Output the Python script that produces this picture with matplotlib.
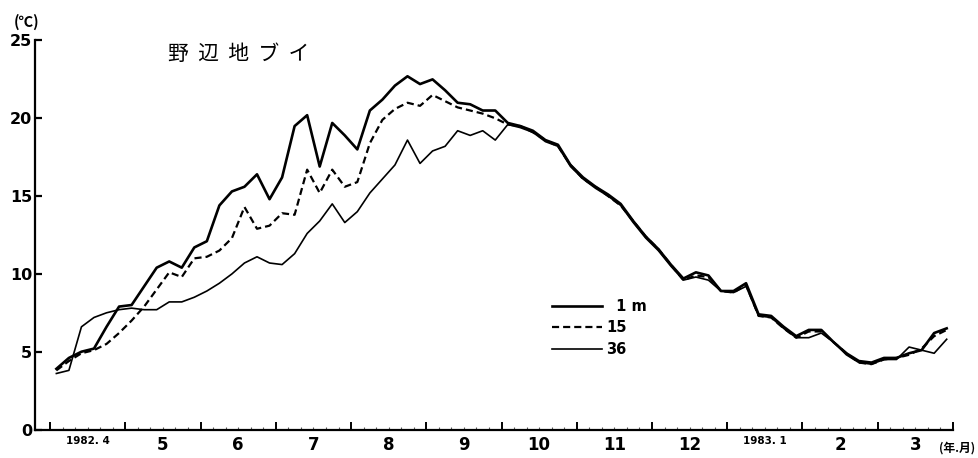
import matplotlib
matplotlib.use("Agg")
import matplotlib.pyplot as plt
import numpy as np

# 5-day mean water temperature, Apr 1982 - Mar 1983 (72 pentads)
t_1m = [3.9, 4.6, 5.0, 5.2, 6.6, 7.9, 8.0, 9.2, 10.4, 10.8,
        10.4, 11.7, 12.1, 14.4, 15.3, 15.6, 16.4, 14.8, 16.2, 19.5,
        20.2, 16.9, 19.7, 18.9, 18.0, 20.5, 21.2, 22.1, 22.7, 22.2,
        22.5, 21.8, 21.0, 20.9, 20.5, 20.5, 19.7,
        19.5, 19.2, 18.6, 18.3, 17.0, 16.2, 15.6, 15.1, 14.5, 13.4,
        12.4, 11.6, 10.6, 9.7, 10.1, 9.9, 8.9, 8.9, 9.4, 7.4,
        7.3, 6.6, 6.0, 6.4, 6.4, 5.6, 4.9, 4.4, 4.3, 4.6,
        4.6, 4.9, 5.1, 6.2, 6.5]
t_15m = [3.8, 4.4, 4.9, 5.1, 5.5, 6.2, 7.0, 7.9, 9.0, 10.1,
         9.8, 11.0, 11.1, 11.5, 12.3, 14.3, 12.9, 13.1, 13.9, 13.8,
         16.7, 15.2, 16.7, 15.6, 15.9, 18.4, 19.9, 20.6, 21.0, 20.8,
         21.5, 21.1, 20.7, 20.5, 20.3, 20.0, 19.6,
         19.5, 19.1, 18.6, 18.2, 17.0, 16.1, 15.6, 15.0, 14.4, 13.4,
         12.4, 11.6, 10.6, 9.6, 9.9, 9.8, 8.9, 8.8, 9.3, 7.3,
         7.2, 6.5, 5.9, 6.3, 6.3, 5.6, 4.9, 4.3, 4.2, 4.5,
         4.6, 4.8, 5.2, 6.0, 6.4]
t_36m = [3.6, 3.8, 6.6, 7.2, 7.5, 7.7, 7.8, 7.7, 7.7, 8.2,
         8.2, 8.5, 8.9, 9.4, 10.0, 10.7, 11.1, 10.7, 10.6, 11.3,
         12.6, 13.4, 14.5, 13.3, 14.0, 15.2, 16.1, 17.0, 18.6, 17.1,
         17.9, 18.2, 19.2, 18.9, 19.2, 18.6, 19.6,
         19.4, 19.1, 18.5, 18.2, 16.9, 16.1, 15.5, 15.0, 14.4, 13.3,
         12.3, 11.5, 10.5, 9.6, 9.8, 9.6, 8.9, 8.8, 9.2, 7.3,
         7.2, 6.5, 5.9, 5.9, 6.2, 5.6, 4.8, 4.3, 4.2, 4.5,
         4.5, 5.3, 5.1, 4.9, 5.8]

month_labels = ["1982. 4", "5", "6", "7", "8", "9", "10", "11", "12",
                "1983. 1", "2", "3"]

cjk = ["Noto Sans CJK JP", "DejaVu Sans"]

x = (np.arange(len(t_1m)) + 0.5) / 6.0   # pentad centres in months

fig = plt.figure(figsize=(9.79, 4.58), dpi=100)
ax = fig.add_axes([0.0358, 0.0622, 0.9376, 0.8494])

ax.plot(x, t_1m, color="black", lw=1.9, label="\u20071 m")
ax.plot(x, t_15m, color="black", lw=1.6, ls=(0, (3.2, 1.8)), label="15")
ax.plot(x, t_36m, color="black", lw=1.2, label="36")

ax.set_xlim(-0.2, 12)
ax.set_ylim(0, 25)

for s in ["top", "right"]:
    ax.spines[s].set_visible(False)
for s in ["left", "bottom"]:
    ax.spines[s].set_linewidth(1.6)

ax.set_yticks([0, 5, 10, 15, 20, 25])
ax.tick_params(axis="y", direction="in", length=5, width=1.6, pad=2,
               labelsize=11.5)
for lab in ax.get_yticklabels():
    lab.set_fontweight("bold")

ax.set_xticks(np.arange(0, 13))
ax.set_xticklabels([])
ax.set_xticks(np.arange(0, 72) / 6.0, minor=True)
ax.tick_params(axis="x", which="major", direction="in", length=6, width=1.4)
ax.tick_params(axis="x", which="minor", direction="in", length=2, width=0.8,
               color="0.35")

for m, lab in enumerate(month_labels):
    small = "." in lab
    ax.text(m + 0.5, -0.016, lab, transform=ax.get_xaxis_transform(),
            ha="center", va="top", fontweight="bold",
            fontsize=7.5 if small else 12)

fig.text(0.0275, 0.953, "(℃)", ha="center", va="center", fontsize=10.5,
         fontweight="bold", family=cjk)
fig.text(0.996, 0.022, "(年.月)", ha="right", va="center", fontsize=8.5,
         fontweight="bold", family=cjk)
fig.text(0.244, 0.882, "野  辺  地  ブ  イ", ha="center", va="center",
         fontsize=15, family=cjk)

ax.legend(loc="center left", bbox_to_anchor=(0.564, 0.284),
          bbox_transform=fig.transFigure, frameon=False,
          handlelength=3.4, handletextpad=0.3, labelspacing=0.45,
          borderpad=0, borderaxespad=0, prop={"weight": "bold", "size": 10.5})

fig.savefig("out.png", dpi=100)
